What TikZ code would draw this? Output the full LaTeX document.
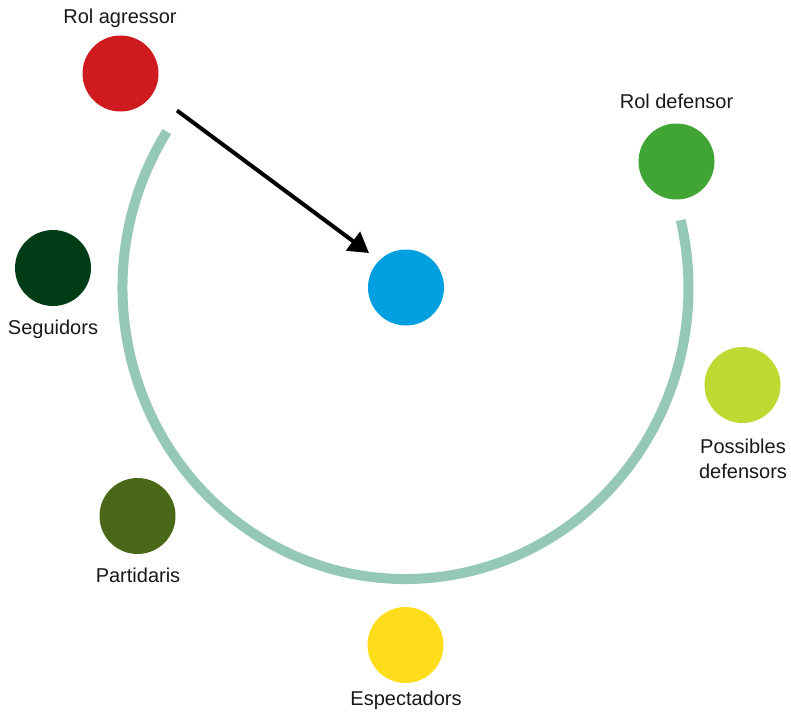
\documentclass[tikz,border=0pt]{standalone}
\usepackage{fontspec}
\setmainfont{Liberation Sans}
\usetikzlibrary{arrows.meta}
\definecolor{cred}{HTML}{CF1A1F}
\definecolor{cgreen}{HTML}{41A535}
\definecolor{cdark}{HTML}{003D16}
\definecolor{cblue}{HTML}{009FE0}
\definecolor{clime}{HTML}{BFD932}
\definecolor{colive}{HTML}{496818}
\definecolor{cyellow}{HTML}{FFDD1A}
\definecolor{carc}{HTML}{95C8B8}
\tikzset{
  dot/.style={circle, inner sep=0pt, minimum size=76pt},
  lbl/.style={font=\fontsize{20}{25}\selectfont, text=black!90, inner sep=0pt, align=center}
}
\begin{document}
\begin{tikzpicture}[x=1pt,y=-1pt]
\useasboundingbox (0,0) rectangle (791,712);
\fill[white] (0,0) rectangle (791,712);
% arc
\draw[carc, line width=10pt] (405.5,288) ++({283*cos(212.5)},{291*sin(212.5)}) arc[start angle=212.5, end angle=-13.5, x radius=283, y radius=291];
% circles
\node[dot, fill=cred] (agr) at (120.5,73.5) {};
\node[dot, fill=cgreen] (def) at (676.5,161.5) {};
\node[dot, fill=cdark] (seg) at (53,268) {};
\node[dot, fill=cblue] (vic) at (406,287.5) {};
\node[dot, fill=clime] (pos) at (742.5,385) {};
\node[dot, fill=colive] (par) at (137.5,516) {};
\node[dot, fill=cyellow] (esp) at (405.5,645) {};
% labels
\node[lbl] (tagr) at (120,18) {Rol agressor};
\node[lbl] (tdef) at (676.5,101) {Rol defensor};
\node[lbl] (tseg) at (53,329) {Seguidors};
\node[lbl] (tpos) at (743,459) {Possibles\\defensors};
\node[lbl] (tpar) at (138,575) {Partidaris};
\node[lbl] (tesp) at (406,700) {Espectadors};
% arrow
\coordinate (as) at (177,110.5);
\coordinate (ae) at (369,253);
\draw[line width=4pt, -{Triangle[length=20pt, width=23pt]}] (as) -- (ae);
\end{tikzpicture}
\end{document}
